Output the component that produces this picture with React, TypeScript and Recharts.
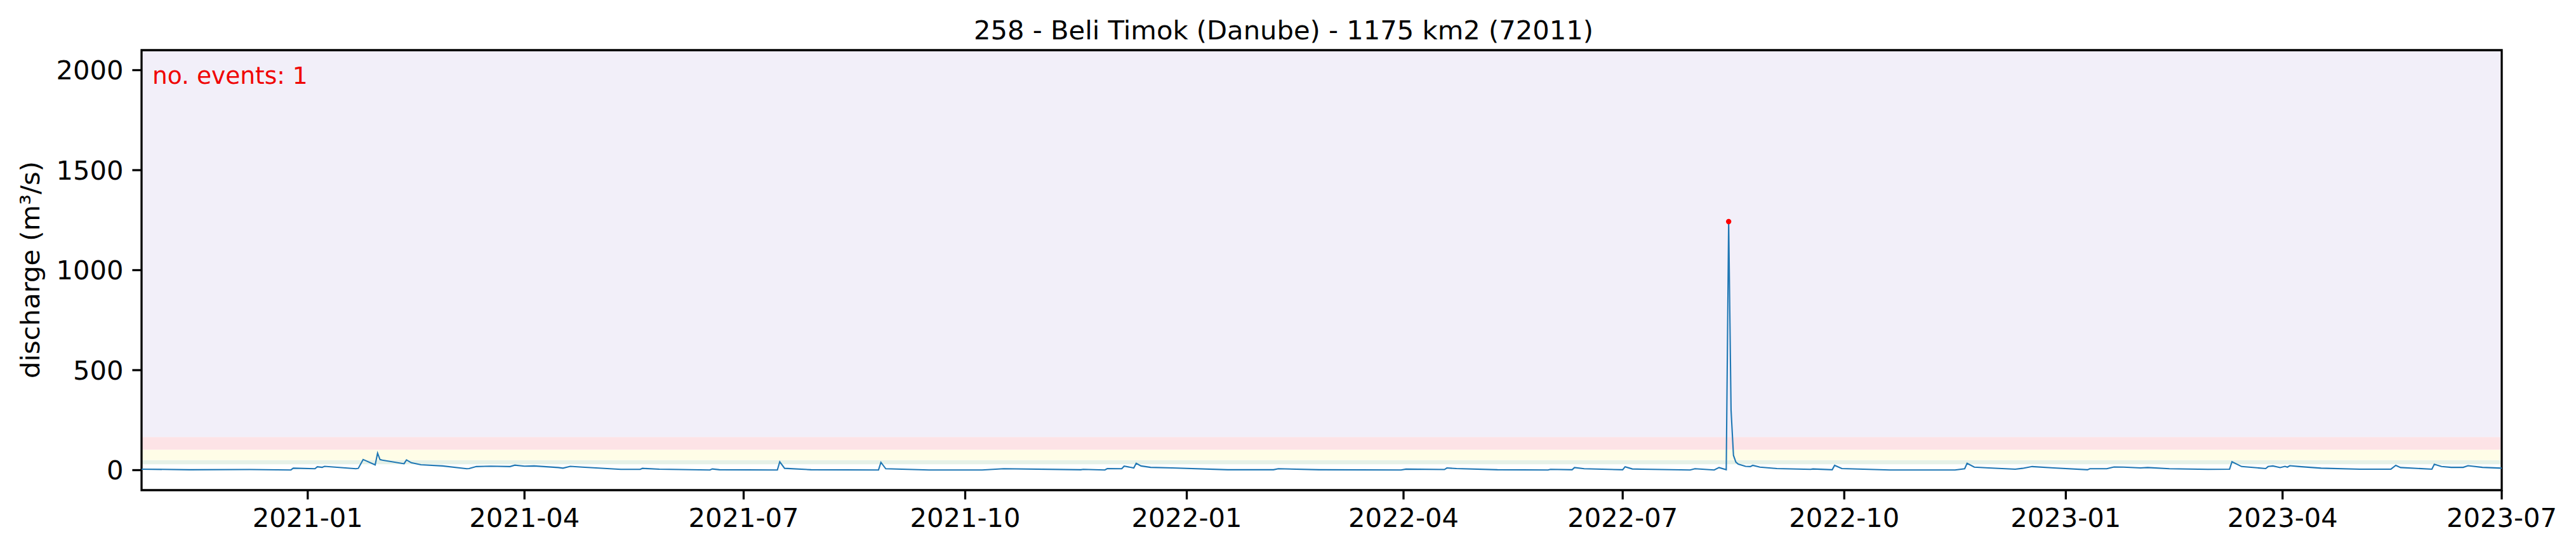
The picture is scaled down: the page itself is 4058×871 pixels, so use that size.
import React from "react";
import {
  ComposedChart,
  Line,
  XAxis,
  YAxis,
  ReferenceArea,
  ReferenceDot,
} from "recharts";

const TITLE = "258 - Beli Timok (Danube) - 1175 km2 (72011)";
const Y_LABEL = "discharge (m³/s)";
const EVENTS_LABEL = "no. events: 1";

const dates = [
  "2020-10-24", "2020-11-13", "2020-12-08", "2020-12-25", "2020-12-26",
  "2021-01-04", "2021-01-05", "2021-01-07", "2021-01-08", "2021-01-21",
  "2021-01-22", "2021-01-24", "2021-01-25", "2021-01-29", "2021-01-30",
  "2021-01-31", "2021-02-01", "2021-02-10", "2021-02-11", "2021-02-13",
  "2021-02-17", "2021-02-26", "2021-03-08", "2021-03-09", "2021-03-12",
  "2021-03-18", "2021-03-26", "2021-03-28", "2021-04-01", "2021-04-05",
  "2021-04-15", "2021-04-17", "2021-04-20", "2021-04-25", "2021-05-11",
  "2021-05-19", "2021-05-20", "2021-05-27", "2021-06-17", "2021-06-18",
  "2021-06-21", "2021-07-14", "2021-07-15", "2021-07-16", "2021-07-18",
  "2021-07-29", "2021-08-26", "2021-08-27", "2021-08-29", "2021-09-16",
  "2021-10-08", "2021-10-17", "2021-11-18", "2021-11-19", "2021-11-28",
  "2021-11-29", "2021-12-05", "2021-12-06", "2021-12-10", "2021-12-11",
  "2021-12-13", "2021-12-17", "2021-12-26", "2022-01-18", "2022-02-06",
  "2022-02-08", "2022-02-25", "2022-03-31", "2022-04-02", "2022-04-18",
  "2022-04-19", "2022-04-23", "2022-05-10", "2022-05-31", "2022-06-01",
  "2022-06-10", "2022-06-11", "2022-06-15", "2022-07-01", "2022-07-02",
  "2022-07-05", "2022-07-09", "2022-07-29", "2022-07-31", "2022-08-08",
  "2022-08-10", "2022-08-13", "2022-08-14", "2022-08-15", "2022-08-16",
  "2022-08-17", "2022-08-18", "2022-08-21", "2022-08-23", "2022-08-24",
  "2022-08-27", "2022-09-03", "2022-09-17", "2022-09-18", "2022-09-26",
  "2022-09-27", "2022-09-30", "2022-10-20", "2022-11-16", "2022-11-20",
  "2022-11-21", "2022-11-24", "2022-11-30", "2022-12-11", "2022-12-14",
  "2022-12-18", "2022-12-27", "2023-01-10", "2023-01-11", "2023-01-18",
  "2023-01-21", "2023-01-25", "2023-02-01", "2023-02-04", "2023-02-13",
  "2023-03-01", "2023-03-10", "2023-03-11", "2023-03-15", "2023-03-25",
  "2023-03-26", "2023-03-28", "2023-03-31", "2023-04-02", "2023-04-03",
  "2023-04-04", "2023-04-08", "2023-04-17", "2023-05-03", "2023-05-16",
  "2023-05-18", "2023-05-20", "2023-06-02", "2023-06-03", "2023-06-06",
  "2023-06-10", "2023-06-15", "2023-06-17", "2023-06-23", "2023-07-01",
];

const discharge = [
  5, 2, 3, 1, 10,
  7, 17, 14, 19, 7,
  9, 53, 48, 26, 85,
  53, 50, 32, 51, 37,
  27, 21, 7, 8, 18,
  20, 18, 25, 20, 21,
  13, 10, 19, 15, 4,
  4, 9, 5, 1, 6,
  2, 1, 1, 42, 9,
  2, 1, 39, 7, 1,
  1, 7, 2, 4, 1,
  8, 7, 20, 11, 34,
  21, 14, 11, 2, 2,
  7, 2, 1, 5, 3,
  11, 8, 2, 1, 4,
  2, 13, 7, 2, 17,
  6, 5, 1, 7, 1,
  13, 2, 1243, 300, 74,
  40, 30, 19, 18, 24,
  15, 8, 4, 6, 2,
  24, 8, 1, 1, 7,
  34, 15, 11, 5, 9,
  18, 11, 2, 7, 7,
  16, 15, 11, 13, 7,
  4, 5, 42, 18, 8,
  18, 21, 13, 19, 15,
  22, 18, 10, 5, 5,
  24, 13, 5, 29, 18,
  14, 14, 22, 14, 10,
];

const eventDates = ["2022-08-14"];
const eventValues = [1243];

const xStart = "2020-10-24";
const xEnd = "2023-07-01";
const xTickDates = [
  "2021-01-01", "2021-04-01", "2021-07-01", "2021-10-01",
  "2022-01-01", "2022-04-01", "2022-07-01", "2022-10-01",
  "2023-01-01", "2023-04-01", "2023-07-01",
];
const yTicks = [0, 500, 1000, 1500, 2000];
const yDomain = [-100, 2100];

const bandLower = [29.5, 50, 102, 166];
const bandUpper = [50, 102, 166, 2100];
const bandColors = ["#e6f1e7", "#fffde7", "#fde3e6", "#f2eff9"];

const data = dates.map((d, i) => ({ t: Date.parse(d), q: discharge[i] }));

const FONT = "DejaVu Sans, Liberation Sans, sans-serif";
const W = 4058;
const H = 871;

const fmt = (t: number) => {
  const d = new Date(t);
  const m = String(d.getUTCMonth() + 1).padStart(2, "0");
  return `${d.getUTCFullYear()}-${m}`;
};

export default function App() {
  const tickStyle = { fontSize: 41.67, fill: "#000", fontFamily: FONT };
  return (
    <div style={{ position: "absolute", left: 0, top: 0, width: W, height: H, background: "#fff" }}>
      <ComposedChart
        width={W}
        height={H}
        data={data}
        margin={{ top: 79, right: 117, bottom: 0, left: 0 }}
      >
        {bandLower.map((lo, i) => (
          <ReferenceArea
            key={i}
            y1={lo}
            y2={bandUpper[i]}
            fill={bandColors[i]}
            fillOpacity={1}
            stroke="none"
            ifOverflow="hidden"
          />
        ))}
        <XAxis
          dataKey="t"
          type="number"
          scale="time"
          domain={[Date.parse(xStart), Date.parse(xEnd)]}
          ticks={xTickDates.map((d) => Date.parse(d))}
          tickFormatter={fmt}
          height={99}
          axisLine={false}
          tickLine={{ stroke: "#000", strokeWidth: 3.3 }}
          tickSize={14.6}
          tickMargin={14}
          tick={tickStyle}
          allowDataOverflow
          interval={0}
        />
        <YAxis
          type="number"
          domain={yDomain}
          ticks={yTicks}
          width={223}
          axisLine={false}
          tickLine={{ stroke: "#000", strokeWidth: 3.3 }}
          tickSize={14.6}
          tickMargin={14}
          tick={tickStyle}
          allowDataOverflow
          interval={0}
        />
        <Line
          dataKey="q"
          type="linear"
          stroke="#1f77b4"
          strokeWidth={2.1}
          dot={false}
          isAnimationActive={false}
        />
        {eventDates.map((d, i) => (
          <ReferenceDot
            key={d}
            x={Date.parse(d)}
            y={eventValues[i]}
            r={4.2}
            fill="#ff0000"
            stroke="none"
          />
        ))}
        <ReferenceArea
          y1={yDomain[0]}
          y2={yDomain[1]}
          fill="none"
          stroke="#000"
          strokeWidth={3.3}
          ifOverflow="visible"
        />
      </ComposedChart>
      <svg
        width={W}
        height={H}
        style={{ position: "absolute", left: 0, top: 0, pointerEvents: "none" }}
      >
        <text x={2022} y={62} textAnchor="middle" fontSize={41.67} fontFamily={FONT} fill="#000">
          {TITLE}
        </text>
        <text
          x={47}
          y={425}
          textAnchor="middle"
          dominantBaseline="central"
          fontSize={41.67}
          fontFamily={FONT}
          fill="#000"
          transform="rotate(-90 47 425)"
        >
          {Y_LABEL}
        </text>
        <text x={240} y={132} fontSize={37.5} fontFamily={FONT} fill="#f00000">
          {EVENTS_LABEL}
        </text>
      </svg>
    </div>
  );
}
